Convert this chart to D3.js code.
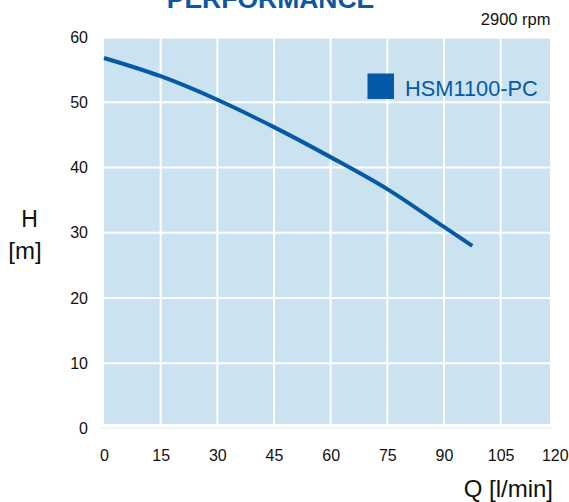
<!DOCTYPE html>
<html>
<head>
<meta charset="utf-8">
<script src="https://cdn.jsdelivr.net/npm/d3@7"></script>
<style>
  body { margin: 0; background: #fff; }
  text { font-family: "Liberation Sans", Arial, sans-serif; }
</style>
</head>
<body>
<div class="chart"></div>
<script>
// Chart data
var flowValues = [0, 15, 30, 45, 60, 75, 90, 97.5];
var headValues = [56.8, 54.0, 50.4, 46.2, 41.6, 36.7, 30.9, 28.0];
var xTicks = [0, 15, 30, 45, 60, 75, 90, 105, 120];
var yTicks = [0, 10, 20, 30, 40, 50, 60];
var seriesName = "HSM1100-PC";

// Canvas
var svgWidth = 569;
var svgHeight = 502;

var svg = d3.select(".chart")
  .append("svg")
  .attr("width", svgWidth)
  .attr("height", svgHeight);

// Scales
var xScale = d3.scaleLinear()
  .domain([0, 120])
  .range([104, 557.3]);

var yScale = d3.scaleLinear()
  .domain([0, 60])
  .range([428.5, 37.1]);

var blue = "#0659a6";

// plot background (stops a bit short of the 120 column)
var bgLeft = xScale(0), bgRight = 550;
var bgTop = yScale(60) + 1.5, bgBottom = yScale(0) - 4.5;

svg.append("rect")
  .attr("x", bgLeft)
  .attr("y", bgTop)
  .attr("width", bgRight - bgLeft)
  .attr("height", bgBottom - bgTop)
  .attr("fill", "#cbe3f0");

// faint base line under the plot
svg.append("line")
  .attr("x1", 100).attr("x2", 552)
  .attr("y1", yScale(0) - 0.5).attr("y2", yScale(0) - 0.5)
  .attr("stroke", "#eef3f7")
  .attr("stroke-width", 1.5);

// white grid
svg.append("g")
  .selectAll("line")
  .data(xTicks.filter(d => d > 0 && d < 120))
  .enter()
  .append("line")
  .attr("x1", d => xScale(d)).attr("x2", d => xScale(d))
  .attr("y1", bgTop).attr("y2", bgBottom)
  .attr("stroke", "#fff")
  .attr("stroke-width", 2);

svg.append("g")
  .selectAll("line")
  .data(yTicks.filter(d => d > 0 && d < 60))
  .enter()
  .append("line")
  .attr("x1", bgLeft).attr("x2", bgRight)
  .attr("y1", d => yScale(d)).attr("y2", d => yScale(d))
  .attr("stroke", "#fff")
  .attr("stroke-width", 2);

// Axes: labels only, no domain or tick lines
var bottomAxis = d3.axisBottom(xScale).tickValues(xTicks).tickSize(0).tickPadding(0);
var leftAxis = d3.axisLeft(yScale).tickValues(yTicks).tickSize(0).tickPadding(0);

var xAxisG = svg.append("g")
  .attr("transform", "translate(0, 450)")
  .call(bottomAxis);

var yAxisG = svg.append("g")
  .attr("transform", "translate(88, 0)")
  .call(leftAxis);

[xAxisG, yAxisG].forEach(function(g) {
  g.select(".domain").remove();
  g.selectAll("text")
    .attr("font-family", "Liberation Sans, Arial, sans-serif")
    .attr("font-size", 16)
    .attr("fill", "#111");
});
xAxisG.selectAll("text").attr("dy", "0.71em");
// last label sits a little left so it stays on the page
xAxisG.selectAll("text").filter(d => d === 120).attr("dx", -2.5);

// Performance curve
var curveData = flowValues.map((q, i) => ({ q: q, h: headValues[i] }));

var line = d3.line()
  .x(d => xScale(d.q))
  .y(d => yScale(d.h))
  .curve(d3.curveMonotoneX);

svg.append("path")
  .datum(curveData)
  .attr("d", line)
  .attr("fill", "none")
  .attr("stroke", blue)
  .attr("stroke-width", 4);

// Legend
svg.append("rect")
  .attr("x", 367.5)
  .attr("y", 73.5)
  .attr("width", 26.5)
  .attr("height", 25.5)
  .attr("fill", blue);

svg.append("text")
  .attr("x", 405)
  .attr("y", 96)
  .attr("font-size", 21.8)
  .attr("fill", blue)
  .text(seriesName);

// Title (cut off at the top in the original)
svg.append("text")
  .attr("x", 270.5)
  .attr("y", 7.5)
  .attr("text-anchor", "middle")
  .attr("font-size", 26.5)
  .attr("font-weight", "bold")
  .attr("fill", "#0b57a4")
  .text("PERFORMANCE");

svg.append("text")
  .attr("x", 550.5)
  .attr("y", 25)
  .attr("text-anchor", "end")
  .attr("font-size", 16.5)
  .attr("fill", "#111")
  .text("2900 rpm");

// Axis titles
svg.append("text")
  .attr("x", 29.5)
  .attr("y", 227)
  .attr("text-anchor", "middle")
  .attr("font-size", 23)
  .attr("fill", "#111")
  .text("H");

svg.append("text")
  .attr("x", 25)
  .attr("y", 258.5)
  .attr("text-anchor", "middle")
  .attr("font-size", 24)
  .attr("fill", "#111")
  .text("[m]");

svg.append("text")
  .attr("x", 553)
  .attr("y", 497)
  .attr("text-anchor", "end")
  .attr("font-size", 24)
  .attr("fill", "#111")
  .text("Q [l/min]");
</script>
</body>
</html>
